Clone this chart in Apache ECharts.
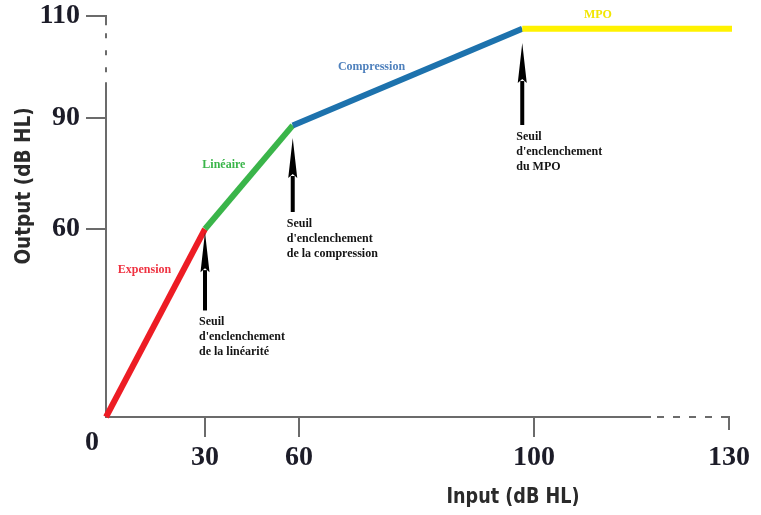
<!DOCTYPE html>
<html>
<head>
<meta charset="utf-8">
<script src="https://cdn.jsdelivr.net/npm/echarts@6/dist/echarts.min.js"></script>
<style>html,body{margin:0;padding:0;background:#fff}#c{width:761px;height:515px}</style>
</head>
<body>
<div id="c"></div>
<script>
// ---------------- data ----------------
const segmentNames = ['Expension', 'Linéaire', 'Compression', 'MPO'];
const kneeInput  = [0, 30, 58, 98, 131];        // input (dB HL) at segment boundaries
const kneeOutput = [0, 60, 88, 107.5, 107.5];   // output (dB HL) at segment boundaries
const xTickValues = [0, 30, 60, 100, 130];
const yTickValues = [60, 90, 110];
const thresholdInput  = [30, 58, 98];
const arrowTipOutput  = [59, 84.6, 104.7];
const arrowTailOutput = [34, 64.6, 88.1];
const thresholdLabels = [
  "Seuil\nd'enclenchement\nde la linéarité",
  "Seuil\nd'enclenchement\nde la compression",
  "Seuil\nd'enclenchement\ndu MPO"
];
const xAxisDashFrom = 118;     // x axis drawn dashed from here to 130
const yAxisDashRange = [97, 108.2]; // y axis drawn dashed in this range

// ---------------- schematic (uneven) axis layout ----------------
const X_STOPS = [0, 30, 60, 100, 130], X_SPAN = [0, 99, 193, 428, 623];
const Y_STOPS = [0, 60, 90, 110],      Y_SPAN = [0, 188, 299, 401];
function warp(v, stops, span) {
  let i = 0;
  while (i < stops.length - 2 && v > stops[i + 1]) i++;
  const t = (v - stops[i]) / (stops[i + 1] - stops[i]);
  return span[i] + t * (span[i + 1] - span[i]);
}
const wx = v => warp(v, X_STOPS, X_SPAN);
const wy = v => warp(v, Y_STOPS, Y_SPAN);
function unwarpLabel(val, ticks, f) {
  for (const t of ticks) if (Math.abs(f(t) - val) < 0.01) return String(t);
  return '';
}

const segColors   = ['#ed1c24', '#3ab54a', '#1d72ad', '#fff200'];
const labelColors = ['#ef3342', '#3ab54a', '#4f81bd', '#f2e600'];
const labelOffsets = [[-11, -53], [-25, -12], [-36, -10], [-31, -14]];
const serif = "'Liberation Serif','Times New Roman',serif";
const titleFont = "'DejaVu Sans','Liberation Sans',sans-serif";
const axisGray = '#6b6b6b';

const lineSeries = segmentNames.map((name, i) => ({
  name, type: 'line', symbol: 'none', clip: false, z: 3,
  lineStyle: { color: segColors[i], width: 6, cap: 'butt' },
  data: [[wx(kneeInput[i]), wy(kneeOutput[i])], [wx(kneeInput[i + 1]), wy(kneeOutput[i + 1])]]
}));

const segLabelSeries = {
  type: 'custom', clip: false, z: 4, silent: true,
  encode: { x: [0, 2], y: [1, 3] },
  data: segmentNames.map((n, i) => [wx(kneeInput[i]), wy(kneeOutput[i]), wx(kneeInput[i + 1]), wy(kneeOutput[i + 1]), i]),
  renderItem(params, api) {
    const a = api.coord([api.value(0), api.value(1)]);
    const b = api.coord([api.value(2), api.value(3)]);
    const i = api.value(4);
    return {
      type: 'text',
      x: (a[0] + b[0]) / 2 + labelOffsets[i][0],
      y: (a[1] + b[1]) / 2 + labelOffsets[i][1],
      style: { text: segmentNames[i], fill: labelColors[i], font: 'bold 12px ' + serif, align: 'center', verticalAlign: 'middle' }
    };
  }
};

const arrowSeries = {
  type: 'custom', clip: false, z: 5, silent: true,
  encode: { x: 0, y: [1, 2] },
  data: thresholdInput.map((x, i) => [wx(x), wy(arrowTailOutput[i]), wy(arrowTipOutput[i]), i]),
  renderItem(params, api) {
    const tail = api.coord([api.value(0), api.value(1)]);
    const tip = api.coord([api.value(0), api.value(2)]);
    const i = api.value(3);
    const x = tip[0], headLen = 40, headHalf = 4.5;
    return {
      type: 'group',
      children: [
        { type: 'rect', shape: { x: x - 2, y: tip[1] + headLen - 2, width: 4, height: tail[1] - tip[1] - headLen + 2 }, style: { fill: '#000' } },
        { type: 'polygon', shape: { points: [[x, tip[1]], [x + headHalf, tip[1] + headLen], [x, tip[1] + headLen - 4], [x - headHalf, tip[1] + headLen]] }, style: { fill: '#000' } },
        { type: 'text', x: x - 6, y: tail[1] + 4,
          style: { text: thresholdLabels[i], fill: '#141414', font: 'bold 12px ' + serif, lineHeight: 15, align: 'left', verticalAlign: 'top' } }
      ]
    };
  }
};

const axisDecorSeries = {
  type: 'custom', clip: false, z: 2, silent: true,
  encode: { x: 0, y: 1 },
  data: [[0, 0]],
  renderItem(params, api) {
    const o = api.coord([wx(0), wy(0)]);
    const xd = api.coord([wx(xAxisDashFrom), wy(0)]);
    const xe = api.coord([wx(130), wy(0)]);
    const yd0 = api.coord([wx(0), wy(yAxisDashRange[0])]);
    const yd1 = api.coord([wx(0), wy(yAxisDashRange[1])]);
    const ye = api.coord([wx(0), wy(110)]);
    const solid = { stroke: axisGray, lineWidth: 2 };
    const dash = { stroke: axisGray, lineWidth: 2, lineDash: [7, 9] };
    return {
      type: 'group',
      children: [
        { type: 'line', shape: { x1: o[0] - 1, y1: o[1], x2: xd[0], y2: o[1] }, style: solid },
        { type: 'line', shape: { x1: xd[0] + 6, y1: o[1], x2: xe[0], y2: o[1] }, style: dash },
        { type: 'line', shape: { x1: xe[0], y1: o[1] - 1, x2: xe[0], y2: o[1] + 13 }, style: solid },
        { type: 'line', shape: { x1: o[0], y1: o[1] + 1, x2: o[0], y2: yd0[1] }, style: solid },
        { type: 'line', shape: { x1: o[0], y1: yd0[1] - 10, x2: o[0], y2: yd1[1] }, style: { stroke: axisGray, lineWidth: 2, lineDash: [5, 12] } },
        { type: 'line', shape: { x1: o[0], y1: yd1[1], x2: o[0], y2: ye[1] - 1 }, style: solid },
        { type: 'text', x: o[0] - 14, y: o[1] + 26,
          style: { text: '0', fill: '#1c1c28', font: 'bold 28px ' + serif, align: 'center', verticalAlign: 'middle' } }
      ]
    };
  }
};

const chart = echarts.init(document.getElementById('c'), null, { renderer: 'canvas' });
chart.setOption({
  animation: false,
  backgroundColor: '#fff',
  grid: { left: 106, top: 16, width: X_SPAN[X_SPAN.length - 1], height: Y_SPAN[Y_SPAN.length - 1], containLabel: false, outerBoundsMode: 'none' },
  xAxis: {
    type: 'value', min: 0, max: X_SPAN[X_SPAN.length - 1],
    axisLine: { show: false },
    splitLine: { show: false },
    axisTick: { show: true, customValues: [30, 60, 100].map(wx), length: 20, lineStyle: { color: axisGray, width: 2 } },
    axisLabel: {
      customValues: xTickValues.slice(1).map(wx), margin: 27,
      formatter: v => unwarpLabel(v, xTickValues, wx),
      color: '#1c1c28', fontSize: 28, fontWeight: 'bold', fontFamily: serif
    }
  },
  yAxis: {
    type: 'value', min: 0, max: Y_SPAN[Y_SPAN.length - 1],
    axisLine: { show: false },
    splitLine: { show: false },
    axisTick: { show: true, customValues: yTickValues.map(wy), length: 20, lineStyle: { color: axisGray, width: 2 } },
    axisLabel: {
      customValues: yTickValues.map(wy), margin: 26,
      formatter: v => unwarpLabel(v, yTickValues, wy),
      color: '#1c1c28', fontSize: 28, fontWeight: 'bold', fontFamily: serif
    }
  },
  graphic: [
    { type: 'text', x: 513, y: 497, scaleX: 0.8, style: { text: 'Input (dB HL)', fill: '#2a2a2a', font: 'bold 22px ' + titleFont, align: 'center', verticalAlign: 'middle' } },
    { type: 'text', x: 24, y: 186, rotation: Math.PI / 2, scaleX: 0.84, style: { text: 'Output (dB HL)', fill: '#2a2a2a', font: 'bold 22px ' + titleFont, align: 'center', verticalAlign: 'middle' } }
  ],
  series: [axisDecorSeries, ...lineSeries, segLabelSeries, arrowSeries]
});
</script>
</body>
</html>
